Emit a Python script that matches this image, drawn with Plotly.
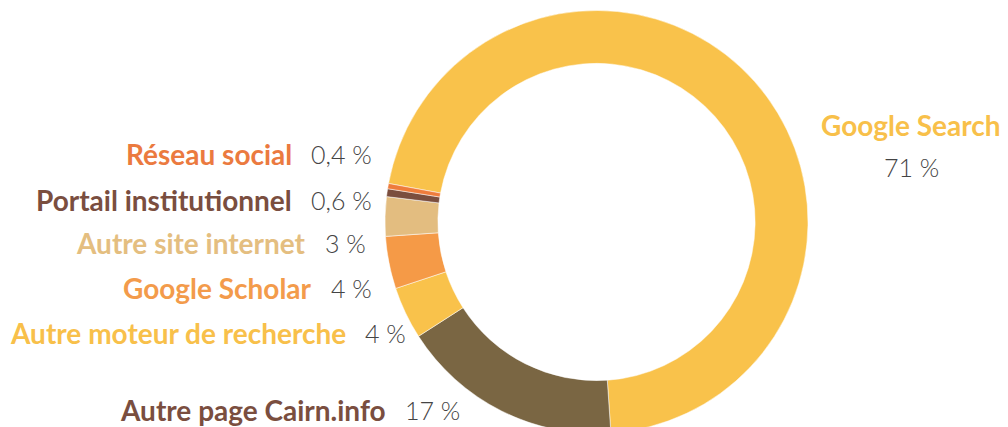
import plotly.graph_objects as go

# ---- data ----
categories = ["Google Search", "Autre page Cairn.info", "Autre moteur de recherche",
              "Google Scholar", "Autre site internet", "Portail institutionnel", "Réseau social"]
values = [71, 17, 4, 4, 3, 0.6, 0.4]
value_labels = ["71 %", "17 %", "4 %", "4 %", "3 %", "0,6 %", "0,4 %"]

# ---- styles ----
slice_colors = ["#F9C24B", "#7A6643", "#F9C24B", "#F59A47", "#E3BD80", "#7B4E3E", "#EE7C3C"]
label_colors = ["#F8C04A", "#7A4E3F", "#F8C04A", "#F39B4B", "#E4BE80", "#7A4E3F", "#EB7A3F"]

W, H = 1008, 440
OFF = 8  # page body margin
# label anchor positions in screen pixels: (x_right_of_name, y_center); Google Search centered
label_pos = {
    "Google Search": (911, 125, 167),
    "Autre page Cairn.info": (388, 410),
    "Autre moteur de recherche": (348, 333),
    "Google Scholar": (314, 288),
    "Autre site internet": (308, 243),
    "Portail institutionnel": (294, 200),
    "Réseau social": (294, 154),
}
gap = 15

def px(x):
    return (x - OFF) / W

def py(y):
    return 1 - (y - OFF) / H

cx, cy, r = 596.5, 222, 211.5

fig = go.Figure()
fig.add_trace(go.Pie(
    labels=categories, values=values, sort=False, direction="clockwise",
    rotation=280.5, hole=0.75, textinfo="none", hoverinfo="label+percent",
    marker=dict(colors=slice_colors, line=dict(color="white", width=0.5)),
    domain=dict(x=[px(cx - r), px(cx + r)], y=[py(cy + r), py(cy - r)]),
    showlegend=False,
))

name_font = dict(family="Lato", size=28, weight=700)
val_font = dict(family="Lato", size=25, weight=300, color="#444444")

annotations = []
for cat, vlab, col in zip(categories, value_labels, label_colors):
    pos = label_pos[cat]
    if cat == "Google Search":
        x, y1, y2 = pos
        annotations.append(dict(text=cat, x=px(x), y=py(y1), xanchor="center", yanchor="middle",
                                font=dict(name_font, color=col)))
        annotations.append(dict(text=vlab, x=px(x), y=py(y2), xanchor="center", yanchor="middle",
                                font=val_font))
    else:
        x, y = pos
        annotations.append(dict(text=cat, x=px(x), y=py(y), xanchor="right", yanchor="middle",
                                font=dict(name_font, color=col)))
        annotations.append(dict(text=vlab, x=px(x + gap), y=py(y), xanchor="left", yanchor="middle",
                                font=val_font))
for a in annotations:
    a.update(xref="paper", yref="paper", showarrow=False)

fig.update_layout(
    width=W, height=H, margin=dict(l=0, r=0, t=0, b=0),
    paper_bgcolor="white", plot_bgcolor="white",
    annotations=annotations,
)
fig.write_html("out.html")
